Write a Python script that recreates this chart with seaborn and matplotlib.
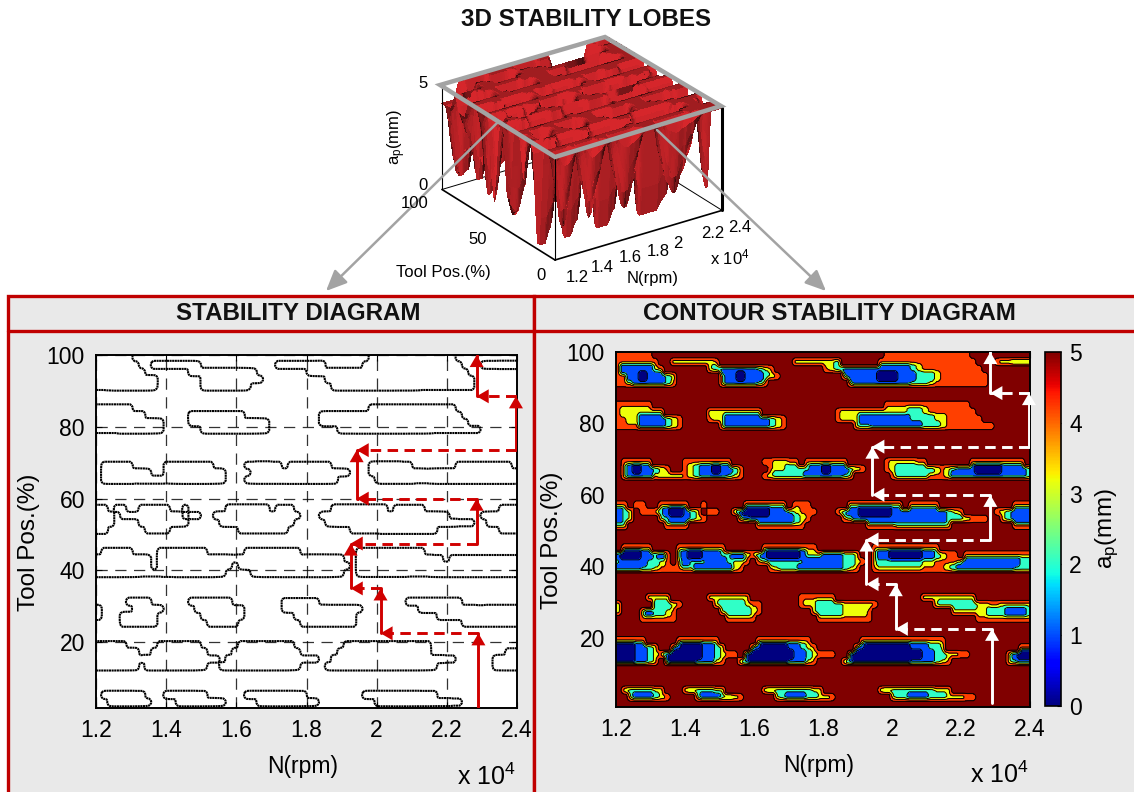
import numpy as np
import matplotlib
matplotlib.use("Agg")
import matplotlib.pyplot as plt
import seaborn as sns
from matplotlib.cm import ScalarMappable
from matplotlib.colors import Normalize
from matplotlib.patches import Rectangle, Polygon
from mpl_toolkits.mplot3d import proj3d

# ---------- data: ap level class per grid cell ("row": "firstcol-lastcol:class"), everything else is class 5
N_MIN, N_MAX = 1.2, 2.4
POS_TOP = 100.0
POS_BOTTOM = 0.6
N_ROWS, N_COLS = 50, 68
AP_OF_CLASS = [0.3, 1.0, 2.0, 3.0, 4.2, 5.0]
JET_OF_CLASS = [0.0, 0.2, 0.41, 0.64, 0.84, 1.0]

BAND_1 = {
    0: "0-5:4 44-57:4",
    1: "0-6:4 9-15:3 16:4 29-35:3 36:2 43-58:4 62:4 63-64:3 65-67:2",
    2: "0-7:4 1-5:1 6:3 15:3 16:2 17-22:1 23:2 24:3 25:4 34:4 35:3 36:2 37-47:1 48:2 49:3 50-59:4",
    3: "0-1:4 2-7:1 4:0 8:2 9:3 17:3 18-23:1 20:0 24:2 25:3 26:4 37:3 38-48:1 43-45:0 49-51:2 52:3 53-60:4",
    4: "0-1:4 2:3 3-7:1 8:2 9:4 17:3 18-22:1 23:2 24:4 38:3 39-47:1 48-50:2 51:3 52-60:4",
}
BAND_2 = {
    7: "0-5:4 44-57:4",
    8: "0:4 1-7:3 15-23:3 36:4 37-47:3 48-49:2 50:3 51-58:4",
    9: "0-1:4 2-3:3 4-7:1 8:2 9:3 10:4 15:4 16-17:3 18-24:1 25:2 26:3 27:4 36:4 37-39:3 40-47:1 48-51:2 52-53:3 54-59:4",
    10: "0-3:4 4-7:1 8:2 9:3 10:4 17:3 18-24:1 25:2 26:3 27:4 39:3 40-41:2 42-49:1 50-52:2 53:3 54-61:4",
}
BAND_3 = {
    15: "1-5:4 11:4 12-18:4 24-25:4 26-27:3 28-29:4 31-37:4 44:4 45-48:3 49-50:4 58-66:4",
    16: "1:3 2-5:1 3:0 6:2 7:3 8:4 11:4 12:3 13:2 14-18:1 16:0 19:2 20:4 25:4 26-27:3 28-31:2 32-37:1 34:0 38:2 39:3 40:4 "
        "44:4 45:3 46-51:2 52:3 53:4 54:3 55:2 56-66:1 59-62:0 67:2",
    17: "1:3 2-5:1 6:4 7-10:3 11:4 12:3 13:2 14-17:1 18:2 19:3 20:4 24:4 25:3 26-30:2 31-36:1 37:2 38:3 "
        "45:4 46-50:2 51-53:4 54:3 55-66:1 67:2",
}
BAND_4 = {
    21: "0-1:4 3-4:4 7-11:4 14:4 21-27:3 29-31:4 38-46:3 48-52:4 65-67:4",
    22: "0:1 1:2 2:3 4-5:4 6:4 7:2 8-11:1 9-10:0 12:2 13:3 15-16:4 19:3 20:1 21-24:0 25-27:1 28:2 29:3 30-32:4 "
        "36:4 37:2 38-39:1 40-44:0 45-53:1 54:2 55:3 56:4 62:4 63:3 64:2 65-67:1",
    23: "0:1 1:2 2:3 7:3 8:2 9-11:1 12:2 13:3 14:4 20:3 21:2 22-28:1 29:2 30:3 31:4 "
        "37:4 38:3 39-53:1 54-56:2 57:3 58-60:4 63:3 64:2 65-67:1",
    24: "0-1:3 8-11:4 23-30:4 41-45:4 46-54:3 65-67:4",
}
BAND_5 = {
    27: "1-5:4 10-17:4 24-32:4 42-52:4",
    28: "0:1 1-3:0 4-5:1 6:2 7:1 8:4 10:2 11:1 12-13:0 14-16:1 17-18:2 19-20:1 21:3 22:4 "
        "23:2 24:1 25-29:0 30:1 31-33:3 34-36:1 37-38:2 39:3 42:3 43-44:1 45-49:0 50-51:1 52:2 53:3 54-55:4 57-67:4",
    29: "0:2 1-4:1 5-6:2 7:3 8:4 10:3 11:1 12-14:2 15-17:1 18:2 19-20:3 21:4 "
        "23:4 24:3 25-30:2 31-36:1 37-38:2 39:3 40:4 42:3 43-49:2 50-51:3 52-54:4 55:4 56:3 57-65:1 66-67:2",
    30: "0-3:1 4-5:2 6:3 7:4 8-10:4 11-12:3 13-18:1 19:3 20:4 "
        "25:4 26:3 27-29:2 30-36:1 37:2 38:3 39:4 42:4 43-49:3 50-52:4 53:4 54:3 55:2 56-64:1 65-67:2",
}
BAND_6 = {
    34: "5-8:3 15-21:3 30-35:4 50-58:3",
    35: "0:3 6-8:2 9:3 10:4 16:3 17-20:2 21:3 22-23:4 30:4 31-32:3 33-36:2 37-41:3 42:4 52:3 53-58:2 59-60:3 61-62:4 63-67:3",
    36: "0:3 4:3 5:1 6-7:2 8:3 9:4 17:3 18-21:2 22:3 23:4 32:3 33-36:2 37-40:3 41:4 55-60:3 61-63:2 64-66:1 67:2",
    37: "4-9:4 18-22:4 33-41:4 59-67:4",
}
BAND_7 = {
    40: "0-4:4 10-16:4 23-31:4 40-53:4",
    41: "0-2:0 3-4:1 5:2 6:3 9:3 10:1 11-13:0 14-15:1 16:2 17:3 22:3 23:1 24-27:0 28-29:1 30:2 31:3 32:4 "
        "39:3 40:1 41-47:0 48-50:1 51-52:2 53:3 66-67:4",
    42: "0-2:0 3-4:1 5:2 6:3 7:4 8:1 9-13:0 14-15:1 16:2 17:3 18-19:4 21:1 22-28:0 29-30:1 31:2 32:3 33-35:4 "
        "38:1 39-49:0 50-51:1 52-53:2 54-55:3 56-57:4 64:3 65:1 66-67:0",
    43: "0-2:0 3-4:1 5:2 6:3 8:1 9-12:0 13-15:1 16:3 17:4 20:3 21:1 22-27:0 28-30:1 31:3 32:4 "
        "37:3 38:1 39-47:0 48-51:1 52:2 53:3 54:4 64:3 65:2 66-67:1",
}
BAND_8 = {
    47: "1:3 2-5:2 6-7:3 11:3 12-15:2 16-17:3 24:3 25-31:2 32-33:3 43:3 44-51:2 52-54:3",
    48: "2:3 3-5:1 6:2 7:3 8:4 13:3 14-16:1 17-18:2 19:3 20:4 26:3 27:2 28-30:1 31-32:2 33-34:3 35:4 "
        "45:3 46-47:2 48-50:1 51-53:2 54-56:3 57-58:4",
}
BANDS = [BAND_1, BAND_2, BAND_3, BAND_4, BAND_5, BAND_6, BAND_7, BAND_8]

# tool-path of the stepping arrows (rpm x 1e4, tool position %), one tuple per segment
PATH_N_START = [2.29, 2.29, 2.011, 2.011, 1.926, 2.285, 2.285, 2.285, 1.943, 2.397, 2.397, 2.397, 2.285]
PATH_POS_START = [1.7, 22.5, 22.5, 35.0, 35.0, 47.5, 47.5, 60.0, 60.0, 73.5, 73.5, 88.5, 88.5]
PATH_N_END = [2.29, 2.011, 2.011, 1.926, 1.926, 1.926, 2.285, 1.943, 1.943, 1.943, 2.397, 2.285, 2.285]
PATH_POS_END = [22.5, 22.5, 35.0, 35.0, 47.5, 47.5, 60.0, 60.0, 73.5, 73.5, 88.5, 88.5, 100.0]
PATH_DASHED = [False, True, False, True, False, True, False, True, False, True, False, True, False]

N_TICKS = [1.2, 1.4, 1.6, 1.8, 2.0, 2.2, 2.4]
N_LABELS = ["1.2", "1.4", "1.6", "1.8", "2", "2.2", "2.4"]
POS_TICKS = [20, 40, 60, 80, 100]
AP_TICKS = [0, 1, 2, 3, 4, 5]

# ---------- build grid
classes = np.full((N_ROWS, N_COLS), 5.0)
for band in BANDS:
    for row, spec in band.items():
        for tok in spec.split():
            rng, val = tok.split(":")
            a, b = (rng.split("-") + [rng])[:2]
            classes[row, int(a):int(b) + 1] = float(val)


def blur(field, wy, wx):
    """Box smoothing with edge padding."""
    out = np.pad(field, ((wy, wy), (wx, wx)), mode="edge")
    out = np.apply_along_axis(lambda v: np.convolve(v, np.ones(wy) / wy, mode="same"), 0, out)
    out = np.apply_along_axis(lambda v: np.convolve(v, np.ones(wx) / wx, mode="same"), 1, out)
    return out[wy:-wy, wx:-wx]


def window(field):
    return np.lib.stride_tricks.sliding_window_view(np.pad(field, 1, mode="edge"), (3, 3))


# pull the outer outline in by one sub-cell while the low classes grow inside it
sub = np.repeat(np.repeat(classes, 4, axis=0), 4, axis=1)
outer = window(sub).max(axis=(2, 3)) < 4.5
inner = window(sub).min(axis=(2, 3))
shaped = np.where(sub >= 4.5, sub, 5.0)
shaped = np.where(outer, inner, sub)
shaped = np.where((sub < 4.5) & ~outer, np.maximum(sub, 4.0), shaped)
fine = blur(shaped, 3, 3)
n_fine = np.linspace(N_MIN, N_MAX, fine.shape[1])
pos_fine = np.linspace(POS_TOP, POS_BOTTOM, fine.shape[0])

# ---------- figure
W, H = 1134, 792
sns.set_theme(style="white")
plt.rcParams["font.family"] = ["Liberation Sans", "DejaVu Sans"]
plt.rcParams["mathtext.default"] = "regular"
fig = plt.figure(figsize=(W / 100, H / 100), dpi=100, facecolor="white")


def px_axes(x0, y0, x1, y1, **kw):
    return fig.add_axes([x0 / W, 1 - y1 / H, (x1 - x0) / W, (y1 - y0) / H], **kw)


RED = "#c00000"
bg = px_axes(0, 0, W, H, zorder=0)
bg.set_xlim(0, W)
bg.set_ylim(H, 0)
bg.axis("off")
for x0, x1 in [(8, 534), (534, 1140)]:
    bg.add_patch(Rectangle((x0, 296), x1 - x0, 510, facecolor="#e9e9e9", edgecolor=RED, lw=2.4))
bg.plot([8, 1134], [331, 331], color=RED, lw=2.4)
bg.text(298, 314, "STABILITY DIAGRAM", ha="center", va="center", fontsize=17.4, fontweight="bold", color="#111111")
bg.text(829, 314, "CONTOUR STABILITY DIAGRAM", ha="center", va="center", fontsize=17.4, fontweight="bold", color="#111111")
bg.text(586, 20, "3D STABILITY LOBES", ha="center", va="center", fontsize=17.4, fontweight="bold", color="#111111")


def style_2d(ax, ymin, ylab_x):
    ax.set_xlim(N_MIN, N_MAX)
    ax.set_ylim(ymin, POS_TOP)
    ax.set_xticks(N_TICKS, N_LABELS)
    ax.set_yticks(POS_TICKS)
    ax.tick_params(direction="in", length=4, width=0.8, top=True, right=True, bottom=True, left=True,
                   labelsize=16.5, pad=8, colors="black")
    for s in ax.spines.values():
        s.set_visible(True)
        s.set_color("black")
        s.set_linewidth(1.4)
    ax.set_xlabel("N(rpm)", fontsize=16.5, color="black")
    ax.set_ylabel("Tool Pos.(%)", fontsize=17.5, color="black")
    ax.xaxis.set_label_coords(0.49, -0.132)
    ax.yaxis.set_label_coords(ylab_x, 0.47)


def draw_path(ax, color):
    for xs, ys, xe, ye, dashed in zip(PATH_N_START, PATH_POS_START, PATH_N_END, PATH_POS_END, PATH_DASHED):
        sns.lineplot(x=[xs, xe], y=[ys, ye], ax=ax, color=color, linewidth=2.1, estimator=None, sort=False,
                     legend=False, linestyle=(0, (3.6, 2.2)) if dashed else "-", zorder=5)
        dx, dy = np.sign(xe - xs), np.sign(ye - ys)
        ax.annotate("", xy=(xe, ye), xytext=(-dx * 9, -dy * 9), xycoords="data", textcoords="offset points",
                    arrowprops=dict(arrowstyle="-|>,head_length=0.62,head_width=0.36", mutation_scale=14,
                                    color=color, lw=0, shrinkA=0, shrinkB=0), zorder=6, annotation_clip=False)


# left diagram
ax1 = px_axes(96, 355, 517, 708, zorder=2)
ax1.set_facecolor("white")
ax1.contour(n_fine, pos_fine, fine, levels=[4.5], colors="black", linewidths=1.5,
            linestyles=[(0, (1.0, 0.25))], zorder=3)
style_2d(ax1, 1.7, -0.133)
ax1.grid(True, color="black", lw=0.9, ls=(0, (9, 6)), alpha=0.8)
ax1.set_axisbelow(True)
draw_path(ax1, "#d00000")

# right diagram
ax2 = px_axes(616, 352, 1030, 707, zorder=2)
jet = plt.get_cmap("jet")
levels = np.arange(-0.5, 6.0, 1.0)
ax2.contourf(n_fine, pos_fine, fine, levels=levels, colors=[jet(v) for v in JET_OF_CLASS], zorder=1)
ax2.contour(n_fine, pos_fine, fine, levels=levels[1:-1], colors="black", linewidths=0.7, zorder=2)
style_2d(ax2, POS_BOTTOM, -0.128)
draw_path(ax2, "white")

# colorbar
cax = px_axes(1045, 352, 1061, 706, zorder=2)
cb = fig.colorbar(ScalarMappable(Normalize(0, 5), jet), cax=cax)
cb.set_ticks(AP_TICKS)
cax.tick_params(direction="in", length=3, width=0.8, labelsize=16.5, pad=6, right=True, colors="black")
cb.outline.set_edgecolor("black")
cb.outline.set_linewidth(1.2)
cb.set_label("a$_p$(mm)", fontsize=17.5, color="black", labelpad=8)

# 3D surface
ap = np.array(AP_OF_CLASS)[classes.astype(int)]
ap_smooth = blur(np.repeat(np.repeat(ap, 4, axis=0), 4, axis=1), 7, 7)[::2, ::2]
X3, Y3 = np.meshgrid(np.linspace(N_MIN, N_MAX, ap_smooth.shape[1]), np.linspace(100, 0, ap_smooth.shape[0]))

# two-sided lighting so that the outside and the inside of the lobes are both lit
box_x, box_y, box_z = 204.0, 200.0, 114.0
gz_y, gz_x = np.gradient(ap_smooth * box_z / 5.0)
gz_x /= box_x / (ap_smooth.shape[1] - 1)
gz_y /= box_y / (ap_smooth.shape[0] - 1)
# row index grows toward pos = 0, so the y slope flips sign
normals = np.dstack([-gz_x, gz_y, np.ones_like(gz_x)])
normals /= np.linalg.norm(normals, axis=2, keepdims=True)
light = np.array([-0.47, -0.67, 0.57])
lit = np.abs(normals @ light)
shade_val = np.clip(0.28 + 0.82 * lit, 0, 1.0)
surface_rgb = np.dstack([0.84 * shade_val, 0.15 * shade_val, 0.17 * shade_val, np.ones_like(shade_val)])

ax3 = fig.add_axes([0.3, 0.62, 0.4, 0.38], projection="3d", computed_zorder=False, zorder=1)
ax3.patch.set_alpha(0)
ax3.set_proj_type("ortho")
ax3.view_init(elev=25.5, azim=-124.6)
ax3.set_box_aspect((box_x, box_y, box_z))
ax3.set_xlim(N_MIN, N_MAX)
ax3.set_ylim(0, 100)
ax3.set_zlim(0, 5)
ax3.set_axis_off()
for a, b in [((1.2, 100, 0), (2.4, 100, 0)), ((2.4, 100, 0), (2.4, 0, 0))]:
    ax3.plot(*zip(a, b), color="black", lw=0.7, zorder=1)
ax3.plot_surface(X3, Y3, ap_smooth, rstride=1, cstride=1, facecolors=surface_rgb, linewidth=0, antialiased=False,
                 shade=False, zorder=2)
for a, b, lw in [((1.2, 100, 0), (1.2, 0, 0), 1.2), ((1.2, 0, 0), (2.4, 0, 0), 1.2),
                 ((1.2, 100, 0), (1.2, 100, 5), 0.8), ((1.2, 0, 0), (1.2, 0, 5), 0.8),
                 ((2.4, 0, 0), (2.4, 0, 5), 2.2)]:
    ax3.plot(*zip(a, b), color="black", lw=lw, zorder=3)

# align the 3D box to the frame in the picture
target_front = np.array([555.0, H - 260.0])
target_right = np.array([722.0, H - 210.0])
for _ in range(3):
    fig.canvas.draw()
    pr = ax3.get_proj()
    def disp(x, y, z):
        X, Y, _z = proj3d.proj_transform(x, y, z, pr)
        return ax3.transData.transform((X, Y))
    f, r = disp(1.2, 0, 0), disp(2.4, 0, 0)
    s = np.linalg.norm(target_right - target_front) / np.linalg.norm(r - f)
    p = ax3.get_position()
    w, h = p.width * s, p.height * s
    ax3.set_position([p.x0, p.y0, w, h])
    fig.canvas.draw()
    pr = ax3.get_proj()
    f = disp(1.2, 0, 0)
    p = ax3.get_position()
    ax3.set_position([p.x0 + (target_front[0] - f[0]) / W, p.y0 + (target_front[1] - f[1]) / H, p.width, p.height])

# overlay: zoom frame, pointers, 3D labels
ov = px_axes(0, 0, W, H, zorder=10)
ov.patch.set_alpha(0)
ov.set_xlim(0, W)
ov.set_ylim(H, 0)
ov.axis("off")
GRAY = "#a3a3a3"
ov.add_patch(Polygon([(440, 85), (605, 37), (721, 106), (555, 157)], closed=True, fill=False, edgecolor=GRAY, lw=3.2))
for start, end in [((497, 123), (326, 291)), ((657, 130), (826, 291))]:
    ov.annotate("", xy=end, xytext=start, arrowprops=dict(arrowstyle="-|>,head_length=0.9,head_width=0.4",
                mutation_scale=14, color=GRAY, lw=1.8, shrinkA=0, shrinkB=0))
small = dict(fontsize=12, ha="center", va="center", color="black")
for txt, x, y in [("5", 423, 83), ("0", 423, 186), ("100", 415, 203), ("50", 478, 239), ("0", 541, 275),
                  ("1.2", 577, 277), ("1.4", 602, 268), ("1.6", 630, 258), ("1.8", 658, 251), ("2", 678, 243),
                  ("2.2", 713, 234), ("2.4", 740, 227), ("Tool Pos.(%)", 443, 273), ("N(rpm)", 653, 278),
                  (r"x 10$^4$", 730, 257)]:
    ov.text(x, y, txt, **small)
ov.text(397, 137, "a$_p$(mm)", rotation=90, **small)
ov.text(486, 777, r"x 10$^4$", fontsize=18, ha="center", va="center", color="black")
ov.text(999, 775, r"x 10$^4$", fontsize=18, ha="center", va="center", color="black")

fig.savefig("out.png", dpi=100)
